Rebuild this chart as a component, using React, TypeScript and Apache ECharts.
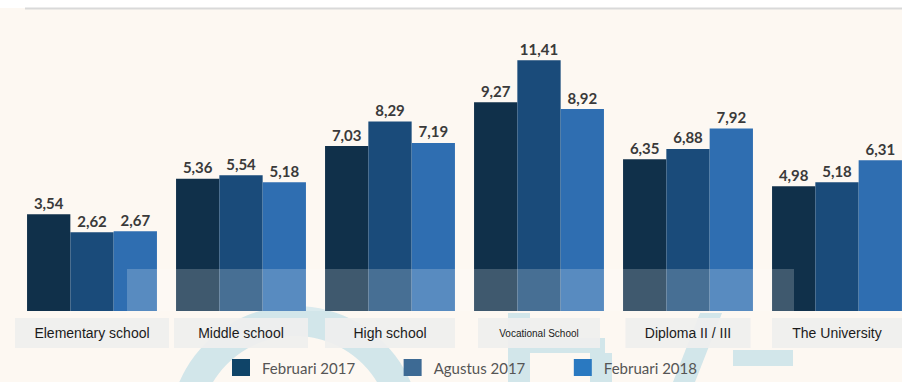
import React, { useEffect, useRef } from "react";
import * as echarts from "echarts";

const categories = [
  "Elementary school",
  "Middle school",
  "High school",
  "Vocational School",
  "Diploma II / III",
  "The University",
];
const seriesNames = ["Februari 2017", "Agustus 2017", "Februari 2018"];
const feb2017 = [3.54, 5.36, 7.03, 9.27, 6.35, 4.98];
const aug2017 = [2.62, 5.54, 8.29, 11.41, 6.88, 5.18];
const feb2018 = [2.67, 5.18, 7.19, 8.92, 7.92, 6.31];

const Y_MIN = -1.4;
const Y_MAX = 12.5;

const barColors = ["#10304a", "#1a4b7a", "#2f6eb1"];
const legendColors = ["#0f4468", "#3d6a94", "#2a79c1"];
const labelBoxWidths = [154, 134, 130, 122, 125, 130];
const labelFontSizes = [14, 14, 14, 10, 14, 14];
const BAR_W = 43.3;

const fmt = (v: number) => v.toFixed(2).replace(".", ",");

export default function App() {
  const ref = useRef<HTMLDivElement>(null);

  useEffect(() => {
    if (!ref.current) return;
    const chart = echarts.init(ref.current, null, { renderer: "svg" });

    const rich: Record<string, any> = {};
    categories.forEach((_, i) => {
      rich["c" + i] = {
        width: labelBoxWidths[i],
        height: 30,
        lineHeight: 30,
        align: "center",
        backgroundColor: "rgba(239,239,238,0.92)",
        fontSize: labelFontSizes[i],
        fontFamily: "Liberation Sans, Arial, sans-serif",
        color: "#1b1b1b",
      };
    });

    const allValues = [feb2017, aug2017, feb2018];
    const series = allValues.map((vals, s) => ({
      type: "custom",
      name: seriesNames[s],
      itemStyle: { color: barColors[s] },
      encode: { x: 0, y: 1 },
      data: vals.map((v, i) => [i, v]),
      renderItem: (params: any, api: any) => {
        const i = api.value(0);
        const v = api.value(1);
        const top = api.coord([i, v]);
        const cs = params.coordSys;
        const bottom = cs.y + cs.height;
        const x = top[0] + (s - 1) * BAR_W - BAR_W / 2;
        return {
          type: "rect",
          shape: { x, y: top[1], width: BAR_W, height: bottom - top[1] },
          style: { fill: barColors[s] },
          textContent: {
            style: {
              text: fmt(v),
              fill: "#3a3a3a",
              fontFamily: "Lato, sans-serif",
              fontWeight: "bold",
              fontSize: 15,
            },
          },
          textConfig: { position: "top", distance: 4 },
        };
      },
    }));

    const wm = "rgba(140,200,220,0.38)";

    chart.setOption({
      animation: false,
      backgroundColor: "#fdf8f2",
      grid: { left: 17.5, width: 894, top: 39, height: 272 },
      xAxis: {
        type: "category",
        data: categories,
        axisLine: { show: false },
        axisTick: { show: false },
        axisLabel: {
          interval: 0,
          margin: 7,
          formatter: (v: string) => `{c${categories.indexOf(v)}|${v}}`,
          rich,
        },
      },
      yAxis: {
        type: "value",
        min: Y_MIN,
        max: Y_MAX,
        show: false,
        splitLine: { show: false },
      },
      legend: {
        data: seriesNames.map((n, i) => ({
          name: n,
          icon: "rect",
          itemStyle: { color: legendColors[i] },
        })),
        left: 232,
        top: 359,
        padding: 0,
        itemWidth: 18,
        itemHeight: 17,
        itemGap: 48.5,
        textStyle: {
          fontFamily: "Lato, sans-serif",
          fontSize: 15,
          color: "#555555",
          width: 95,
          padding: [0, 0, 0, 7],
        },
      },
      graphic: [
        { type: "rect", shape: { x: 0, y: 0, width: 912, height: 8 }, style: { fill: "#ffffff" }, z: -5 },
        { type: "line", shape: { x1: 25, y1: 8.5, x2: 912, y2: 8.5 }, style: { stroke: "#d9d9d9", lineWidth: 2 }, z: -4 },
        { type: "ring", shape: { cx: 295, cy: 432, r: 126, r0: 96 }, style: { fill: wm }, z: -1 },
        { type: "rect", shape: { x: 508, y: 313, width: 22, height: 69 }, style: { fill: wm }, z: -1 },
        { type: "rect", shape: { x: 530, y: 338, width: 75, height: 15 }, style: { fill: wm }, z: -1 },
        { type: "rect", shape: { x: 590, y: 353, width: 22, height: 29 }, style: { fill: wm }, z: -1 },
        { type: "polygon", shape: { points: [[673, 382], [695, 382], [722, 313], [700, 313]] }, style: { fill: wm }, z: -1 },
        { type: "rect", shape: { x: 733, y: 350, width: 60, height: 16 }, style: { fill: wm }, z: -1 },
        { type: "rect", shape: { x: 127, y: 269, width: 667, height: 42 }, style: { fill: "rgba(255,255,255,0.2)" }, z: 10 },
      ],
      series,
    });

    return () => chart.dispose();
  }, []);

  return (
    <div
      style={{
        position: "absolute",
        left: 0,
        top: 0,
        width: 902,
        height: 382,
        overflow: "hidden",
      }}
    >
      <div ref={ref} style={{ width: 912, height: 382 }} />
    </div>
  );
}
